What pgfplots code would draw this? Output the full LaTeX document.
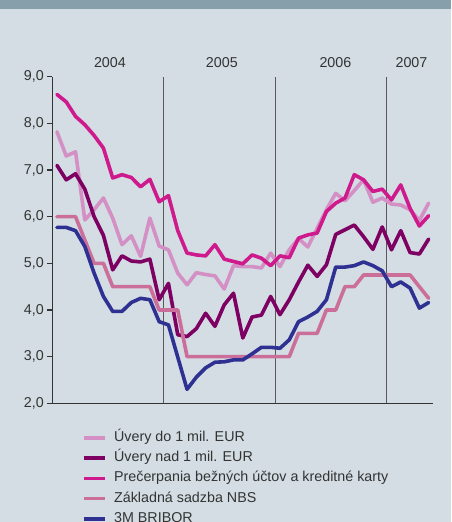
\documentclass[border=0pt]{standalone}
\usepackage{pgfplots}
\pgfplotsset{compat=1.18}
\usepackage{pgfplotstable}
\usepackage{fontspec}
\setmainfont{Liberation Sans}
\definecolor{bg}{HTML}{D3DDE3}
\definecolor{band}{HTML}{869FAA}
\definecolor{cA}{HTML}{D490C5}
\definecolor{cB}{HTML}{7D0062}
\definecolor{cC}{HTML}{CE1A8C}
\definecolor{cD}{HTML}{CB6F9A}
\definecolor{cE}{HTML}{2E3192}
\definecolor{txt}{HTML}{333333}

\pgfplotstableread{
x a b c d e
0.5 7.82 7.10 8.62 6.00 5.77
1.5 7.30 6.79 8.46 6.00 5.77
2.5 7.39 6.92 8.15 6.00 5.70
3.5 5.93 6.59 7.97 5.50 5.36
4.5 6.15 6.00 7.74 5.00 4.79
5.5 6.40 5.60 7.47 5.00 4.29
6.5 5.97 4.86 6.83 4.50 3.97
7.5 5.40 5.16 6.90 4.50 3.97
8.5 5.59 5.05 6.84 4.50 4.16
9.5 5.15 5.03 6.64 4.50 4.25
10.5 5.97 5.09 6.80 4.50 4.22
11.5 5.37 4.22 6.32 4.00 3.75
12.5 5.29 4.57 6.45 4.00 3.68
13.5 4.79 3.47 5.70 4.00 2.99
14.5 4.54 3.43 5.22 3.00 2.30
15.5 4.80 3.60 5.18 3.00 2.56
16.5 4.76 3.93 5.16 3.00 2.76
17.5 4.73 3.65 5.40 3.00 2.88
18.5 4.45 4.11 5.09 3.00 2.89
19.5 4.95 4.36 5.04 3.00 2.93
20.5 4.93 3.40 4.99 3.00 2.93
21.5 4.93 3.85 5.18 3.00 3.06
22.5 4.90 3.89 5.11 3.00 3.20
23.5 5.22 4.29 4.95 3.00 3.20
24.5 4.93 3.90 5.16 3.00 3.18
25.5 5.29 4.22 5.12 3.00 3.36
26.5 5.53 4.60 5.54 3.50 3.75
27.5 5.35 4.96 5.61 3.50 3.85
28.5 5.75 4.72 5.65 3.50 3.97
29.5 6.15 4.97 6.11 4.00 4.22
30.5 6.50 5.62 6.29 4.00 4.92
31.5 6.34 5.72 6.40 4.50 4.92
32.5 6.56 5.82 6.90 4.50 4.95
33.5 6.79 5.57 6.79 4.75 5.03
34.5 6.31 5.30 6.54 4.75 4.95
35.5 6.40 5.78 6.59 4.75 4.84
36.5 6.27 5.29 6.36 4.75 4.50
37.5 6.25 5.70 6.68 4.75 4.60
38.5 6.15 5.23 6.18 4.75 4.47
39.5 5.92 5.20 5.80 4.50 4.04
40.5 6.29 5.52 6.02 4.25 4.16
}\datatable

\begin{document}
\begin{tikzpicture}
\useasboundingbox (-52.3pt,-118.7pt) rectangle (398.7pt,403.3pt);
\fill[bg] (-52.3pt,-118.7pt) rectangle (398.7pt,403.3pt);
\fill[band] (-52.3pt,393.8pt) rectangle (398.7pt,403.3pt);
\begin{axis}[
  at={(0pt,0pt)}, anchor=origin,
  scale only axis, width=381pt, height=326.6pt,
  xmin=0, xmax=41, ymin=2, ymax=9,
  axis x line*=bottom, axis y line*=left,
  axis line style={line width=1.1pt, color=txt, -},
  xtick=\empty,
  extra x ticks={12,24,36}, extra x tick labels={},
  extra x tick style={grid=major, major grid style={line width=1.1pt, color=black!65}, major tick length=0pt},
  ytick={2,3,4,5,6,7,8,9},
  tick align=outside, major tick length=5pt,
  ytick style={line width=1.1pt, color=txt},
  tick label style={font=\fontsize{14.3}{17}\selectfont, text=txt},
  /pgf/number format/.cd, fixed, fixed zerofill, precision=1, use comma, assume math mode=true,
  /pgfplots/.cd,
  clip=false,
  every axis plot/.append style={line width=3.6pt, line join=round, line cap=round},
  legend image code/.code={\draw[#1, line cap=butt] (0pt,0pt) -- (21.6pt,0pt);},
  legend cell align=left,
  legend style={at={(axis description cs:0,0)}, anchor=north west, xshift=29.4pt, yshift=-27.2pt,
    draw=none, fill=none, inner sep=0pt, row sep=6.3pt, column sep=7pt,
    font=\fontsize{14.3}{17}\selectfont, text=txt,
    nodes={inner sep=0pt, text height=10.5pt, text depth=3.5pt}},
]
\addplot[cA] table[x=x,y=a] {\datatable};
\addlegendentry{Úvery do 1 mil. EUR}
\addplot[cB] table[x=x,y=b] {\datatable};
\addlegendentry{Úvery nad 1 mil. EUR}
\addplot[cC] table[x=x,y=c] {\datatable};
\addlegendentry{Prečerpania bežných účtov a kreditné karty}
\addplot[cD] table[x=x,y=d] {\datatable};
\addlegendentry{Základná sadzba NBS}
\addplot[cE] table[x=x,y=e] {\datatable};
\addlegendentry{3M BRIBOR}
\node[anchor=base, text=txt, font=\fontsize{14.3}{17}\selectfont] at (axis cs:6.2,9) [yshift=9.4pt] {2004};
\node[anchor=base, text=txt, font=\fontsize{14.3}{17}\selectfont] at (axis cs:18.25,9) [yshift=9.4pt] {2005};
\node[anchor=base, text=txt, font=\fontsize{14.3}{17}\selectfont] at (axis cs:30.47,9) [yshift=9.4pt] {2006};
\node[anchor=base, text=txt, font=\fontsize{14.3}{17}\selectfont] at (axis cs:38.65,9) [yshift=9.4pt] {2007};
\end{axis}
\end{tikzpicture}
\end{document}
